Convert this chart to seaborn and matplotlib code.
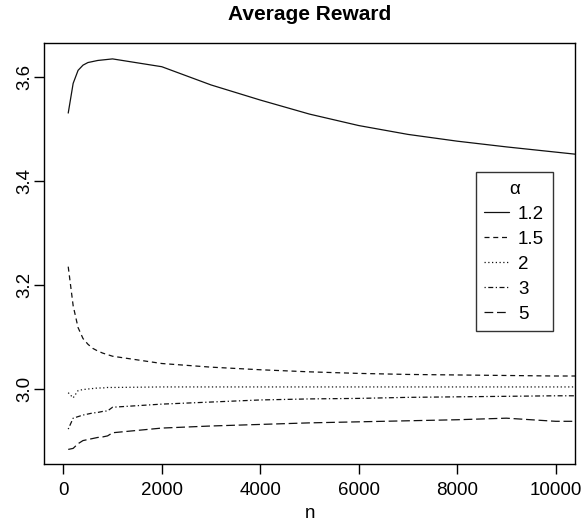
import matplotlib
matplotlib.use("Agg")
import matplotlib.pyplot as plt
import seaborn as sns
import pandas as pd

n = [100, 200, 300, 400, 500, 600, 700, 800, 900, 1000,
     2000, 3000, 4000, 5000, 6000, 7000, 8000, 9000, 10000, 10500]

alpha_labels = ["1.2", "1.5", "2", "3", "5"]

r_12 = [3.530, 3.587, 3.612, 3.622, 3.627, 3.629, 3.631, 3.632, 3.633, 3.634,
        3.619, 3.584, 3.555, 3.528, 3.506, 3.489, 3.476, 3.465, 3.455, 3.450]
r_15 = [3.235, 3.160, 3.118, 3.097, 3.086, 3.078, 3.073, 3.069, 3.066, 3.063,
        3.049, 3.042, 3.037, 3.033, 3.030, 3.028, 3.027, 3.026, 3.025, 3.025]
r_2 = [2.993, 2.983, 2.997, 2.999, 3.000, 3.001, 3.002, 3.002, 3.003, 3.003,
       3.004, 3.004, 3.004, 3.004, 3.004, 3.004, 3.004, 3.004, 3.004, 3.004]
r_3 = [2.923, 2.944, 2.947, 2.950, 2.952, 2.954, 2.955, 2.957, 2.958, 2.965,
       2.971, 2.975, 2.979, 2.981, 2.982, 2.984, 2.985, 2.986, 2.987, 2.987]
r_5 = [2.884, 2.886, 2.895, 2.901, 2.903, 2.905, 2.907, 2.908, 2.910, 2.916,
       2.925, 2.929, 2.932, 2.935, 2.937, 2.939, 2.941, 2.944, 2.938, 2.938]

series = [r_12, r_15, r_2, r_3, r_5]
styles = ["-", (0, (4, 3)), (0, (1, 2)), (0, (1, 2, 4, 2)), (0, (7, 3))]

sns.set_style("ticks")
plt.rcParams["font.family"] = ["Liberation Sans", "DejaVu Sans"]

fig = plt.figure(figsize=(5.87, 5.24), dpi=100)
ax = fig.add_axes([0.0758, 0.1145, 0.9037, 0.8029])

for lab, vals, ls in zip(alpha_labels, series, styles):
    df = pd.DataFrame({"n": n, "reward": vals})
    sns.lineplot(data=df, x="n", y="reward", ax=ax, color="#111111",
                 linewidth=0.9, linestyle=ls, label=lab)

ax.set_xlim(-382, 10392)
ax.set_ylim(2.856, 3.664)
ax.set_xticks([0, 2000, 4000, 6000, 8000, 10000])
ax.set_yticks([3.0, 3.2, 3.4, 3.6])
ax.set_yticklabels(["3.0", "3.2", "3.4", "3.6"], rotation=90, va="center")
ax.tick_params(axis="both", labelsize=13.5, length=7, width=1, color="black",
               labelcolor="black", direction="out", pad=6)
ax.tick_params(axis="y", pad=1)
for s in ax.spines.values():
    s.set_visible(True)
    s.set_color("black")
    s.set_linewidth(1.0)

ax.set_xlabel("n", fontsize=13.5, labelpad=4, color="black")
ax.set_ylabel("")
ax.set_title("Average Reward", fontsize=15, fontweight="bold", pad=17,
             color="black")

leg = ax.legend(title="α", loc="upper right", bbox_to_anchor=(0.958, 0.6934),
                borderaxespad=0, frameon=True, fancybox=False, fontsize=13.5,
                title_fontsize=13.5, handlelength=1.3, handletextpad=0.5,
                labelspacing=0.42, borderpad=0.45)
leg.get_frame().set_edgecolor("black")
leg.get_frame().set_linewidth(1.0)
for t in leg.get_texts():
    t.set_color("black")
leg.get_title().set_color("black")

fig.savefig("out.png", dpi=100)
